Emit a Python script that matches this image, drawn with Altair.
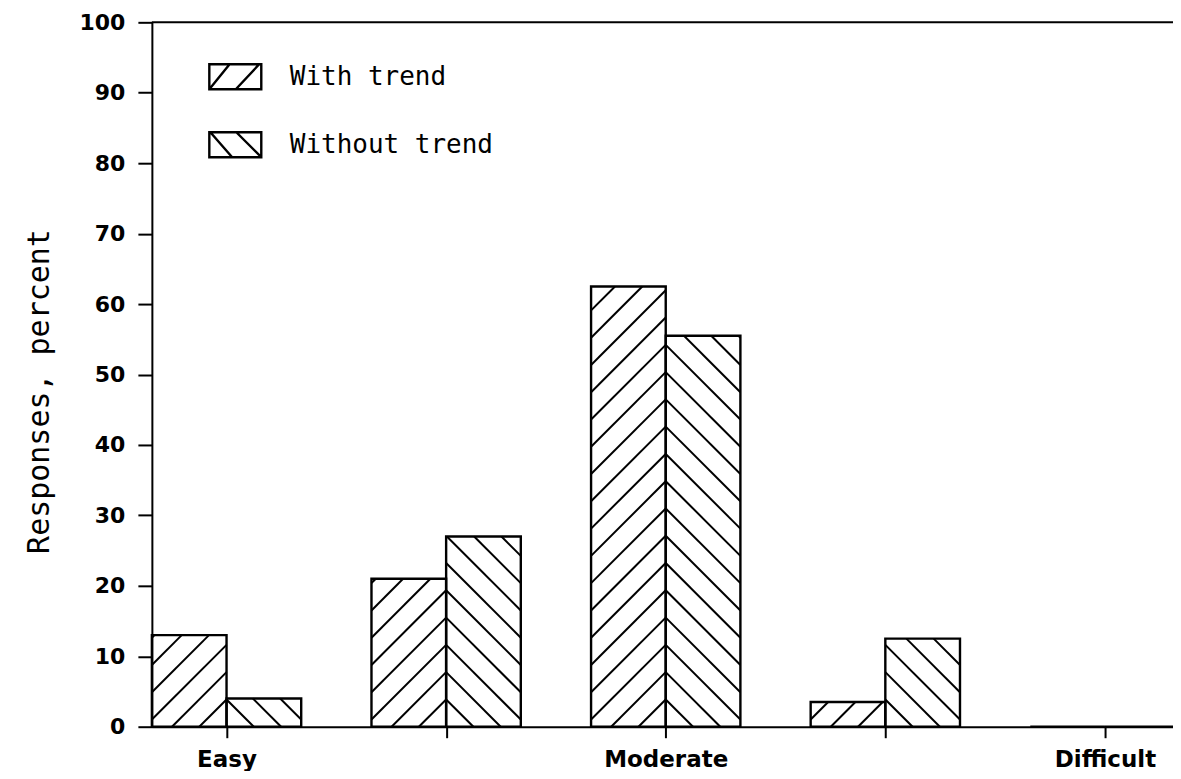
import json
import altair as alt
import pandas as pd

# ---------------- data ----------------
categories = ["Easy", "", "Moderate", "", "Difficult"]
series_names = ["With trend", "Without trend"]
with_trend = [13.0, 21.0, 62.5, 3.5, 0.0]
without_trend = [4.0, 27.0, 55.5, 12.5, 0.0]
y_ticks = [0, 10, 20, 30, 40, 50, 60, 70, 80, 90, 100]
y_title = "Responses, percent"

# ---------------- layout constants ----------------
W, H = 1022, 705
X_MIN, X_MAX = -0.34, 4.31
BAR = 0.34                     # width of one bar in category units
PX_X = W / (X_MAX - X_MIN)
PX_Y = H / 100.0
R = PX_X / PX_Y                # y-units per x-unit for a 45 degree line
GAP = 27.3 / PX_Y              # vertical hatch spacing in y-units

bar_rows = []
hatch_rows = []
for i, cat in enumerate(categories):
    for s, vals in zip(series_names, [with_trend, without_trend]):
        v = vals[i]
        if s == series_names[0]:
            x0, x1 = i - BAR, i
        else:
            x0, x1 = i, i + BAR
        bar_rows.append({"series": s, "cat": cat, "x0": x0, "x1": x1, "base": 0.0, "value": v})
        k = 1
        while True:
            yv = k * GAP
            if yv - BAR * R > v:
                break
            if s == series_names[0]:
                lo = max(x0, i - yv / R)
                hi = min(x1, i - (yv - v) / R)
                if hi > lo:
                    hatch_rows.append({"series": s, "x": lo, "x2": hi,
                                       "y": yv - (i - lo) * R, "y2": yv - (i - hi) * R})
            else:
                lo = max(x0, i + (yv - v) / R)
                hi = min(x1, i + yv / R)
                if hi > lo:
                    hatch_rows.append({"series": s, "x": lo, "x2": hi,
                                       "y": yv - (lo - i) * R, "y2": yv - (hi - i) * R})
            k += 1

bars_df = pd.DataFrame(bar_rows)
hatch_df = pd.DataFrame(hatch_rows)
legend_df = pd.DataFrame({"series": series_names, "x": [0.0, 0.0], "y": [0.0, 0.0]})
frame_df = pd.DataFrame({"y": [100.0], "xa": [X_MIN], "xb": [X_MAX]})

label_expr = json.dumps(categories).replace('"', "'") + "[round(datum.value)]"

xs = alt.Scale(domain=[X_MIN, X_MAX], nice=False, zero=False)
ys = alt.Scale(domain=[0, 100], nice=False)

AX_FONT = "DejaVu Sans"
MONO = "DejaVu Sans Mono"

x_axis = alt.Axis(values=[0, 1, 2, 3, 4], labelExpr=label_expr, title=None, grid=False,
                  tickSize=11, tickWidth=2, tickColor="black", domainColor="black", domainWidth=2,
                  labelFont=AX_FONT, labelFontWeight="bold", labelFontSize=23, labelColor="black",
                  labelPadding=11, labelFlush=False, labelOverlap=False)
y_axis = alt.Axis(values=y_ticks, title=y_title, grid=False,
                  tickSize=14, tickWidth=2, tickColor="black", domainColor="black", domainWidth=2,
                  labelFont=AX_FONT, labelFontWeight="bold", labelFontSize=22, labelColor="black",
                  labelPadding=13, titleFont=MONO, titleFontSize=30, titleFontWeight="normal",
                  titleColor="black", titleX=-112, titleY=369, titleAngle=270,
                  titleAlign="center", titleBaseline="middle")

hatch = alt.Chart(hatch_df).mark_rule(color="black", strokeWidth=2).encode(
    x=alt.X("x:Q", scale=xs, axis=x_axis, title=None),
    x2="x2:Q",
    y=alt.Y("y:Q", scale=ys, axis=y_axis, title=y_title),
    y2="y2:Q",
)

bars = alt.Chart(bars_df).mark_rect(fill=None, stroke="black", strokeWidth=2.4).encode(
    x=alt.X("x0:Q", scale=xs, axis=x_axis, title=None),
    x2="x1:Q",
    y=alt.Y("value:Q", scale=ys, axis=y_axis, title=y_title),
    y2="base:Q",
)

frame = alt.Chart(frame_df).mark_rule(color="black", strokeWidth=2).encode(
    y=alt.Y("y:Q", scale=ys, axis=y_axis, title=y_title),
    x=alt.X("xa:Q", scale=xs, axis=x_axis, title=None),
    x2="xb:Q",
)

PATH_WITH = ("M-1,-0.48H1V0.48H-1Z"
             "M-1,0.48L-0.22,-0.48"
             "M0.02,0.48L0.92,-0.48")
PATH_WITHOUT = ("M-1,-0.48H1V0.48H-1Z"
                "M-0.96,-0.48L-0.12,0.48"
                "M0.04,-0.48L1,0.48")

legend_pts = alt.Chart(legend_df).mark_point(opacity=0, filled=False, color="black", strokeWidth=2).encode(
    x=alt.X("x:Q", scale=xs, axis=x_axis, title=None),
    y=alt.Y("y:Q", scale=ys, axis=y_axis, title=y_title),
    shape=alt.Shape("series:N",
                    scale=alt.Scale(domain=series_names, range=[PATH_WITH, PATH_WITHOUT]),
                    legend=alt.Legend(title=None, orient="none", legendX=56, legendY=27,
                                      symbolSize=2704, symbolStrokeWidth=2.4, symbolStrokeColor="black",
                                      symbolFillColor="white", symbolOpacity=1,
                                      labelFont=MONO, labelFontSize=26, labelColor="black",
                                      labelOffset=27, rowPadding=23, padding=0, labelLimit=400)),
)

chart = alt.layer(hatch, bars, frame, legend_pts).properties(
    width=W, height=H,
    padding={"left": 144, "top": 14, "right": 0, "bottom": 44},
    autosize=alt.AutoSizeParams(type="none"),
    background="white",
).configure_view(stroke=None)

chart.save("out.html", embed_options={"renderer": "svg", "actions": False})
